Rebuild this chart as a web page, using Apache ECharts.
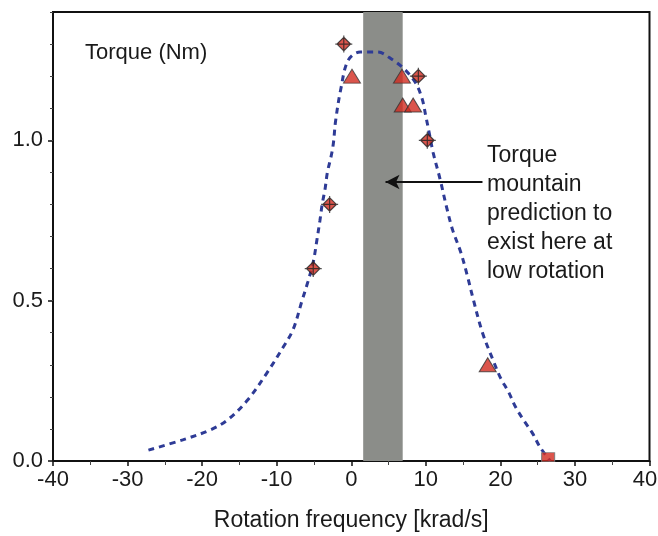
<!DOCTYPE html>
<html>
<head>
<meta charset="utf-8">
<script src="https://cdn.jsdelivr.net/npm/echarts@6/dist/echarts.min.js"></script>
<style>html,body{margin:0;padding:0;background:#fff}#c{width:658px;height:536px}</style>
</head>
<body>
<div id="c"></div>
<script>
// ---- data ----
const xTickValues = [-40, -30, -20, -10, 0, 10, 20, 30, 40];
const yTickLabels = ['0.0', '0.5', '1.0'];
const curveX = [-27.2, -22.6, -18.9, -16.6, -13.9, -11.3, -9.1, -7.8, -6.6, -5.8, -5.1, -4.6, -4.2, -3.9, -3.5, -3.2, -2.7, -2.4, -2.1, -1.4, -0.4, 1.2, 3.5, 5.6, 7.2, 8.6, 9.5, 10.0, 10.4, 11.0, 11.9, 12.8, 13.6, 14.7, 15.6, 16.3, 17.6, 19.1, 20.0, 21.1, 22.0, 23.1, 24.3, 25.3, 26.7];
const curveY = [0.034, 0.066, 0.097, 0.128, 0.19, 0.275, 0.356, 0.41, 0.50, 0.56, 0.62, 0.69, 0.75, 0.80, 0.85, 0.90, 0.95, 0.99, 1.06, 1.16, 1.25, 1.275, 1.275, 1.25, 1.22, 1.18, 1.13, 1.075, 1.03, 0.96, 0.88, 0.79, 0.72, 0.65, 0.575, 0.51, 0.40, 0.31, 0.26, 0.215, 0.17, 0.128, 0.087, 0.044, 0.0];
const diamondX = [-5.1, -2.9, -1.0, 9.0, 10.2];
const diamondY = [0.6, 0.8, 1.3, 1.2, 1.0];
const triangleX = [0.1, 6.8, 6.9, 8.3, 18.3];
const triangleY = [1.2, 1.2, 1.11, 1.11, 0.3];
const squareX = [26.4];
const squareY = [0.012];
const bandRange = [1.6, 6.9];
const arrowFrom = [17.6, 0.87];
const arrowTo = [4.6, 0.87];
const yLabelText = 'Torque (Nm)';
const xAxisTitle = 'Rotation frequency [krad/s]';
const noteText = 'Torque\nmountain\nprediction to\nexist here at\nlow rotation';

const FONT = '"Liberation Sans", Arial, sans-serif';
const TXT = '#1a1a1a';
const RED = '#d22a1f';
const zip = (a, b) => a.map((v, i) => [v, b[i]]);
const xMax = xTickValues[xTickValues.length - 1];

const chart = echarts.init(document.getElementById('c'), null, {renderer: 'canvas'});
chart.setOption({
  animation: false,
  backgroundColor: '#fff',
  grid: {left: 53, right: 8.5, top: 12, bottom: 75, show: true, borderColor: '#111', borderWidth: 2,
    backgroundColor: 'transparent', containLabel: false, outerBoundsMode: 'none'},
  xAxis: {
    type: 'value', min: -40, max: 40, interval: 10,
    name: xAxisTitle, nameLocation: 'middle', nameGap: 48,
    nameTextStyle: {fontFamily: FONT, fontSize: 23, color: TXT},
    axisLine: {show: true, onZero: false, lineStyle: {color: '#111', width: 2}},
    axisTick: {show: true, inside: false, length: 5, lineStyle: {color: '#111', width: 1.5}},
    minorTick: {show: true, splitNumber: 2, length: 4, lineStyle: {color: '#444', width: 1}},
    splitLine: {show: false},
    axisLabel: {fontFamily: FONT, fontSize: 22, color: TXT, margin: 8, hideOverlap: false,
      rich: {m: {fontFamily: FONT, fontSize: 22, color: TXT, padding: [0, 9, 0, 0]}},
      formatter: v => v === xMax ? '{m|' + v + '}' : (xTickValues.includes(v) ? String(v) : '')}
  },
  yAxis: [{
    type: 'value', min: 0, max: 1.4, interval: 0.5,
    axisLine: {show: true, onZero: false, lineStyle: {color: '#111', width: 2}},
    axisTick: {show: true, length: 5, lineStyle: {color: '#111', width: 1.5}},
    splitLine: {show: false},
    axisLabel: {fontFamily: FONT, fontSize: 22, color: TXT, margin: 10, showMaxLabel: false,
      formatter: v => { const i = Math.round(v / 0.5); return (Math.abs(v - i * 0.5) < 1e-6 && yTickLabels[i]) ? yTickLabels[i] : ''; }}
  }, {
    type: 'value', min: 0, max: 1.4, interval: 0.1, position: 'left',
    axisLine: {show: false, onZero: false}, axisLabel: {show: false}, splitLine: {show: false},
    axisTick: {show: true, length: 3, lineStyle: {color: '#444', width: 1}}
  }],
  graphic: [
    {type: 'text', left: 85, top: 42, style: {text: yLabelText, font: '22px ' + FONT, fill: TXT}},
    {type: 'text', left: 487, top: 141, style: {text: noteText, font: '23px ' + FONT, fill: TXT, lineHeight: 29}}
  ],
  series: [
    {
      type: 'line', data: [], z: 1,
      markArea: {silent: true, itemStyle: {color: '#8b8d89'}, data: [[{xAxis: bandRange[0], yAxis: 0}, {xAxis: bandRange[1], yAxis: 1.4}]]}
    },
    {
      type: 'line', data: zip(curveX, curveY), smooth: 0.35, showSymbol: false, z: 3,
      lineStyle: {color: '#2e3b96', width: 3, type: [6, 5]},
      markLine: {silent: true, symbol: ['none', 'arrow'], symbolSize: [11, 14],
        lineStyle: {color: '#111', width: 2, type: 'solid'}, label: {show: false},
        data: [[{coord: arrowFrom}, {coord: arrowTo}]]}
    },
    {
      type: 'scatter', data: zip(diamondX, diamondY), z: 5,
      symbol: 'path://M10,2 L18,10 L10,18 L2,10 Z M0,10 L20,10 M10,0 L10,20', symbolSize: 17,
      itemStyle: {color: RED, borderColor: '#222', borderWidth: 1.2}
    },
    {
      type: 'scatter', data: zip(triangleX, triangleY), z: 5,
      symbol: 'triangle', symbolSize: [17, 14],
      itemStyle: {color: RED, borderColor: '#333', borderWidth: 1}
    },
    {
      type: 'scatter', data: zip(squareX, squareY), z: 5,
      symbol: 'rect', symbolSize: [13, 9],
      itemStyle: {color: RED, borderColor: '#777', borderWidth: 1}
    }
  ]
});
</script>
</body>
</html>
